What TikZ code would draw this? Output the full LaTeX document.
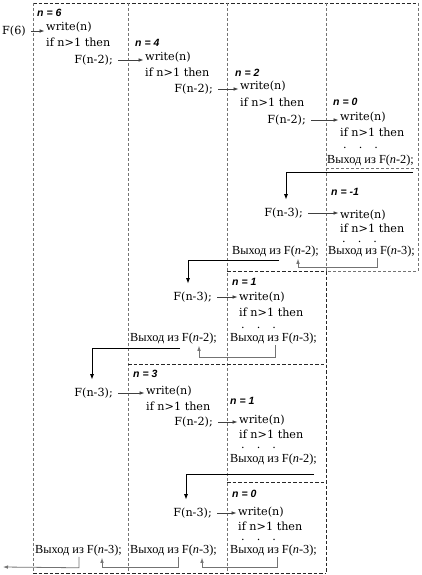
\documentclass[tikz,border=0pt]{standalone}
\usepackage{fontspec}
\setmainfont{DejaVu Serif}
\newfontfamily\exitfam{Liberation Serif}
\newfontfamily\labfam{Liberation Sans}
\usetikzlibrary{arrows.meta}

\begin{document}
\begin{tikzpicture}[x=1pt,y=-1pt,
  code/.style={font=\fontsize{11.2}{13}\selectfont,inner sep=0pt,anchor=west},
  callr/.style={font=\fontsize{11.2}{13}\selectfont,inner sep=0pt,anchor=east},
  nlab/.style={font=\labfam\fontsize{10.5}{12}\selectfont\bfseries\itshape,inner sep=0pt,anchor=west},
  exit/.style={font=\exitfam\fontsize{12.3}{14}\selectfont,inner sep=0pt,anchor=west},
  dots/.style={font=\fontsize{11.2}{13}\selectfont,inner sep=0pt,anchor=west},
  callarrow/.style={draw=black!75,line width=0.6pt,-{Latex[length=5pt,width=3.6pt]},shorten <=5pt,shorten >=1.5pt},
  jump/.style={draw=black,line width=0.9pt,-{Latex[length=5.5pt,width=4pt]},shorten >=8pt},
  ret/.style={draw=black!55,line width=0.8pt,-{Latex[length=5pt,width=3.6pt]}},
  frameg/.style={draw=black!55,line width=0.6pt,dash pattern=on 3pt off 2pt},
  framek/.style={draw=black!85,line width=0.9pt,dash pattern=on 3.5pt off 2pt}]

\useasboundingbox (0,0) rectangle (422,575);

% Frame borders
\draw[framek] (33,3) -- (418,3);
\draw[frameg] (418,3) -- (418,271) -- (326,271);
\draw[frameg] (326,168) -- (418,168);
\foreach \fx in {33,128,227}
{\draw[frameg] (\fx,3) -- (\fx,573);}
\draw[frameg] (326,3) -- (326,271);
\draw[framek] (227,271) -- (326,271) -- (326,573);
\draw[framek] (128,364) -- (326,364);
\draw[framek] (227,482) -- (326,482);
\draw[framek] (33,573) -- (326,573);

% Frame n = 6
\node[code] (F6) at (2,31) {F(6)};
\node[nlab] (l6) at (37,13) {n = 6};
\node[code] (w6) at (46,27) {write(n)};
\node[code] (i6) at (46,42) {if n>1 then};
\node[callr] (c6) at (113,60) {F(n-2);};

% Frame n = 4
\node[nlab] (l4) at (135,43) {n = 4};
\node[code] (w4) at (145,57) {write(n)};
\node[code] (i4) at (145,72) {if n>1 then};
\node[callr] (c4) at (213,89) {F(n-2);};

% Frame n = 2
\node[nlab] (l2) at (235,73) {n = 2};
\node[code] (w2) at (240,86) {write(n)};
\node[code] (i2) at (240,102) {if n>1 then};
\node[callr] (c2) at (306,120) {F(n-2);};

% Frame n = 0, first
\node[nlab] (l0a) at (333,102) {n = 0};
\node[code] (w0a) at (340,117) {write(n)};
\node[code] (i0a) at (340,132) {if n>1 then};
\node[dots] (d0a) at (343,148) {.\hspace{12pt}.\hspace{12pt}.};
\node[exit] (x0a) at (327,161) {Выход из F(\textit{n}-2);};

% Frame n = -1
\node[callr] (c2b) at (303,213) {F(n-3);};
\node[nlab] (lm) at (331,192) {n = -1};
\node[code] (wm) at (340,215) {write(n)};
\node[code] (im) at (340,228) {if n>1 then};
\node[dots] (dm) at (342,242) {.\hspace{12pt}.\hspace{12pt}.};
\node[exit] (xm) at (328,252) {Выход из F(\textit{n}-3);};
\node[exit] (x2) at (232,252) {Выход из F(\textit{n}-2);};

% Frame n = 1, first
\node[callr] (c4b) at (212,297) {F(n-3);};
\node[nlab] (l1a) at (232,282) {n = 1};
\node[code] (w1a) at (239,297) {write(n)};
\node[code] (i1a) at (239,312) {if n>1 then};
\node[dots] (d1a) at (241,328) {.\hspace{12pt}.\hspace{12pt}.};
\node[exit] (x1a) at (230,339) {Выход из F(\textit{n}-3);};
\node[exit] (x4) at (130,339) {Выход из F(\textit{n}-2);};

% Frame n = 3
\node[callr] (c6b) at (113,393) {F(n-3);};
\node[nlab] (l3) at (133,374) {n = 3};
\node[code] (w3) at (146,391) {write(n)};
\node[code] (i3) at (146,406) {if n>1 then};
\node[callr] (c3) at (213,422) {F(n-2);};

% Frame n = 1, second
\node[nlab] (l1b) at (230,401) {n = 1};
\node[code] (w1b) at (239,420) {write(n)};
\node[code] (i1b) at (239,434) {if n>1 then};
\node[dots] (d1b) at (241,448) {.\hspace{12pt}.\hspace{12pt}.};
\node[exit] (x1b) at (230,460) {Выход из F(\textit{n}-2);};

% Frame n = 0, second
\node[callr] (c3b) at (212,513) {F(n-3);};
\node[nlab] (l0b) at (232,494) {n = 0};
\node[code] (w0b) at (238,512) {write(n)};
\node[code] (i0b) at (238,526) {if n>1 then};
\node[dots] (d0b) at (241,540) {.\hspace{12pt}.\hspace{12pt}.};
\node[exit] (x0b) at (230,551) {Выход из F(\textit{n}-3);};
\node[exit] (x3) at (130,551) {Выход из F(\textit{n}-3);};
\node[exit] (x6) at (35,551) {Выход из F(\textit{n}-3);};
\coordinate (out) at (3,567);

% Calls
\draw[callarrow] (F6.east) -- (F6.east -| w6.west);
\draw[callarrow] (c6.east) -- (c6.east -| w4.west);
\draw[callarrow] (c4.east) -- (c4.east -| w2.west);
\draw[callarrow] (c2.east) -- (c2.east -| w0a.west);
\draw[callarrow] (c2b.east) -- (c2b.east -| wm.west);
\draw[callarrow] (c4b.east) -- (c4b.east -| w1a.west);
\draw[callarrow] (c6b.east) -- (c6b.east -| w3.west);
\draw[callarrow] (c3.east) -- (c3.east -| w1b.west);
\draw[callarrow] (c3b.east) -- (c3b.east -| w0b.west);

% Jumps to the next call
\draw[jump] ([xshift=86pt,yshift=-6pt]x0a.south west) -| ([xshift=-17pt]c2b.north east);
\draw[jump] ([xshift=47pt,yshift=-3pt]x2.south west) -| ([xshift=-24pt]c4b.north east);
\draw[jump] ([xshift=50pt,yshift=-4pt]x4.south west) -| ([xshift=-21pt]c6b.north east);
\draw[jump] ([xshift=84pt,yshift=-9pt]x1b.south west) -| ([xshift=-26pt]c3b.north east);

% Returns
\draw[ret] ([xshift=49pt]xm.south west) -- ++(0,10) -| ([xshift=66pt,yshift=-1pt]x2.south west);
\draw[ret] ([xshift=45pt]x1a.south west) -- ++(0,13) -| ([xshift=69pt,yshift=-1pt]x4.south west);
\draw[ret] ([xshift=47pt]x0b.south west) -- ++(0,11) -| ([xshift=72pt,yshift=-1pt]x3.south west);
\draw[ret] ([xshift=48pt]x3.south west) -- ++(0,11) -| ([xshift=67pt,yshift=-1pt]x6.south west);
\draw[ret] ([xshift=44pt]x6.south west) -- ++(0,11) -- (out);
\end{tikzpicture}
\end{document}
